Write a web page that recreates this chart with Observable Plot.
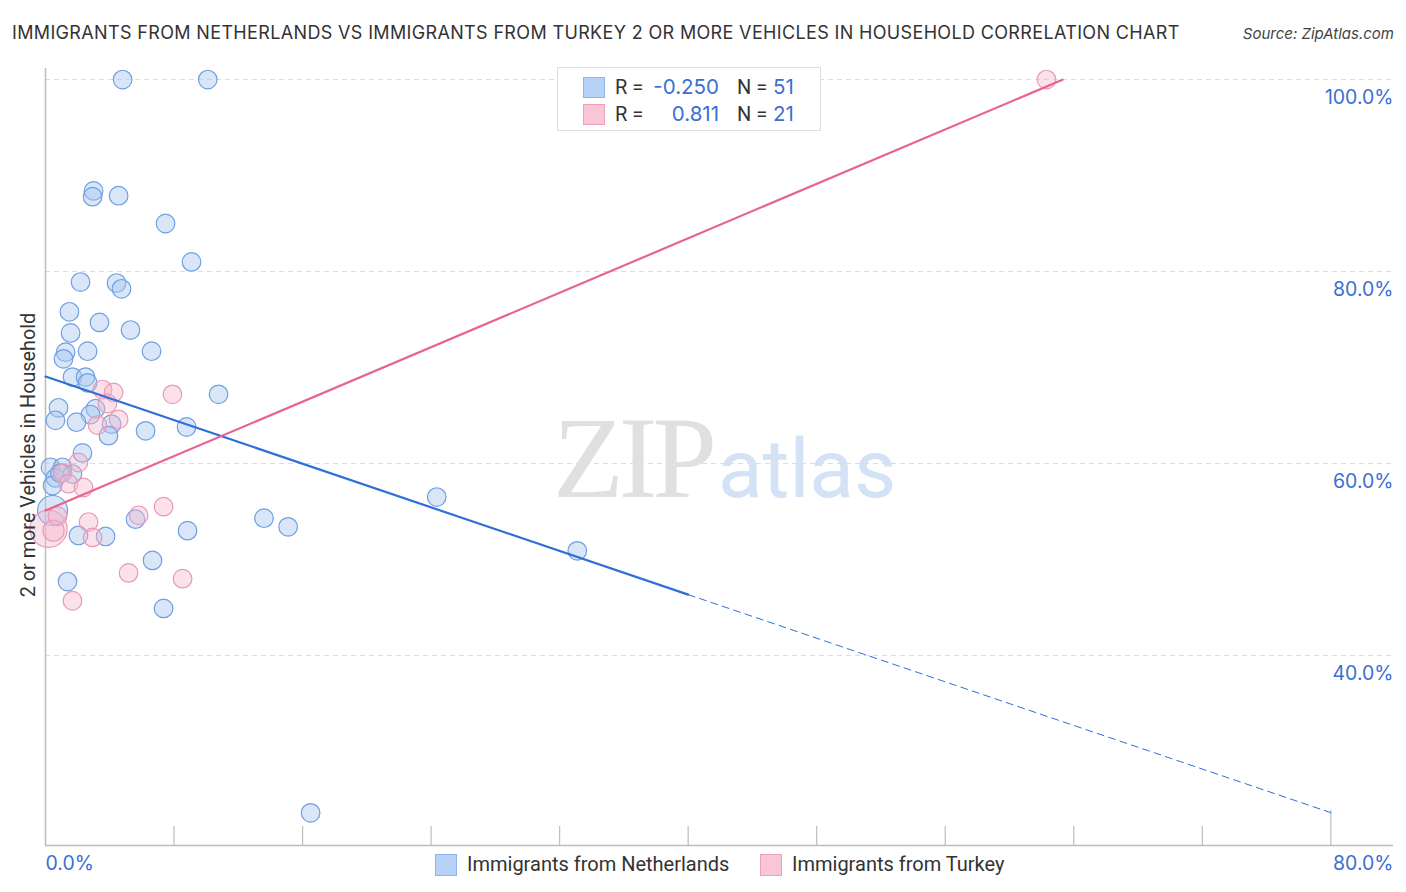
<!DOCTYPE html>
<html>
<head>
<meta charset="utf-8">
<script src="https://cdn.jsdelivr.net/npm/d3@7"></script>
<script src="https://cdn.jsdelivr.net/npm/@observablehq/plot@0.6"></script>
<style>
  html, body { margin: 0; padding: 0; background: #fff; }
  #wrap { position: relative; width: 1406px; height: 892px; font-family: Roboto, "Noto Sans", sans-serif; color: #333; overflow: hidden; }
  #title { position: absolute; left: 12px; top: 22px; font-family: Inter, "Noto Sans", sans-serif; font-size: 18px; color: #333; white-space: nowrap; letter-spacing: 0.35px; }
  #source { position: absolute; right: 12px; top: 24px; font-family: Inter, "Noto Sans", sans-serif; font-size: 15px; font-style: italic; color: #444; }
  #chart { position: absolute; left: 0; top: 0; }
  #rbox { position: absolute; left: 557px; top: 67px; width: 262px; height: 62px; border: 1px solid #ddd; background: #fff; font-size: 20px; }
  .row { position: absolute; left: 0; height: 26px; line-height: 26px; white-space: nowrap; }
  .sw { position: absolute; top: 3px; width: 20px; height: 19px; }
  .lab { position: absolute; color: #333; }
  .val { position: absolute; color: #3b6fd4; font-family: Inter, Roboto, sans-serif; font-size: 20.5px; }
  #blegend { position: absolute; top: 853px; left: 0; font-size: 20px; white-space: nowrap; }
  .bsw { position: absolute; top: 1px; width: 20px; height: 20px; }
  .btxt { position: absolute; top: 0; line-height: 22px; color: #333; }
  #ylab { position: absolute; left: 28px; top: 455px; transform: translate(-50%, -50%) rotate(-90deg); font-size: 19.8px; color: #333; white-space: nowrap; }
  #wm { position: absolute; left: 553px; top: 392px; white-space: nowrap; }
</style>
</head>
<body>
<div id="wrap">
  <div id="chart"></div>
  <div id="wm"><span style="font-family:'Liberation Serif','DejaVu Serif',serif;font-size:116px;color:#e0e0e0;letter-spacing:-5px;">ZIP</span><span style="font-family:Roboto,'Noto Sans',sans-serif;font-size:82px;color:#d3e2f5;margin-left:6px;">atlas</span></div>
  <div id="title">IMMIGRANTS FROM NETHERLANDS VS IMMIGRANTS FROM TURKEY 2 OR MORE VEHICLES IN HOUSEHOLD CORRELATION CHART</div>
  <div id="source">Source: ZipAtlas.com</div>
  <div id="ylab">2 or more Vehicles in Household</div>
  <div id="rbox"></div>
  <div id="blegend"></div>
</div>
<script>
// ---------- data ----------
const seriesNames = ["Immigrants from Netherlands", "Immigrants from Turkey"];
const seriesR = ["-0.250", "0.811"];
const seriesN = ["51", "21"];

const nlX = [4.8, 10.1, 2.99, 2.93, 4.55, 7.47, 9.09, 2.18, 4.42, 4.73,
             1.49, 3.36, 1.56, 5.29, 1.25, 1.12, 2.62, 6.6, 1.68, 2.49,
             2.62, 10.77, 0.81, 3.11, 2.8, 0.62, 1.93, 4.11, 6.23, 8.78,
             3.92, 2.3, 0.31, 1.06, 1.68, 0.62, 0.44, 24.35, 0.44, 5.6,
             13.6, 15.1, 8.84, 2.05, 3.74, 33.1, 6.66, 1.37, 7.35, 16.5, 0.9];
const nlY = [100, 100, 88.4, 87.8, 87.9, 85.0, 81.0, 78.9, 78.8, 78.2,
             75.8, 74.7, 73.6, 73.9, 71.6, 70.9, 71.7, 71.7, 69.0, 69.0,
             68.4, 67.2, 65.8, 65.7, 65.1, 64.5, 64.3, 64.1, 63.4, 63.8,
             62.9, 61.1, 59.6, 59.6, 58.9, 58.5, 57.7, 56.5, 55.1, 54.2,
             54.3, 53.4, 53.0, 52.5, 52.4, 50.9, 49.9, 47.7, 44.9, 23.6, 59.0];
const nlW = [1, 1, 1, 1, 1, 1, 1, 1, 1, 1,
             1, 1, 1, 1, 1, 1, 1, 1, 1, 1,
             1, 1, 1, 1, 1, 1, 1, 1, 1, 1,
             1, 1, 1, 1, 1, 1, 1, 1, 2.6, 1,
             1, 1, 1, 1, 1, 1, 1, 1, 1, 1, 1];

const trX = [62.3, 3.55, 4.24, 7.9, 3.86, 4.55, 3.24, 2.05, 1.06, 1.43,
             2.36, 7.35, 5.8, 2.68, 2.93, 5.17, 8.53, 1.68, 0.19, 0.75, 0.5];
const trY = [100, 67.7, 67.4, 67.2, 66.25, 64.6, 64.0, 60.1, 59.0, 57.9,
             57.5, 55.5, 54.6, 53.9, 52.3, 48.6, 48.0, 45.7, 53.2, 54.5, 53.0];
const trW = [1, 1, 1, 1, 1, 1, 1, 1, 1, 1,
             1, 1, 1, 1, 1, 1, 1, 1, 4, 1, 1.3];

// fitted trend lines (intercept at 0%, slope per %)
const nlFit = { intercept: 69.06, slope: -0.568, solidTo: 40, dashTo: 80 };
const trFit = { intercept: 55.1, slope: 0.709, solidTo: 63.3 };

const xTicks = [0, 8, 16, 24, 32, 40, 48, 56, 64, 72, 80];
const yTicks = [40, 60, 80, 100];
const xDomain = [0, 83.9];
const yDomain = [20.2, 101.15];

// ---------- build ----------
const blue = { fill: "#a9c7f0", stroke: "#6f9fe3", line: "#2f6fd8", sw: "#b7d2f6", swStroke: "#8fb5ea" };
const pink = { fill: "#f6b7ca", stroke: "#eb98b3", line: "#e8648f", sw: "#f9c6d5", swStroke: "#ef9fb8" };

const nl = nlX.map((x, i) => ({ x, y: nlY[i], w: nlW[i] }));
const tr = trX.map((x, i) => ({ x, y: trY[i], w: trW[i] }));

const fitPts = (f, a, b) => [a, b].map(x => ({ x, y: f.intercept + f.slope * x }));
const nlSolid = fitPts(nlFit, 0, nlFit.solidTo);
const nlDash = fitPts(nlFit, nlFit.solidTo, nlFit.dashTo);
const trSolid = fitPts(trFit, 0, trFit.solidTo);

const pct = d => d.toFixed(1) + "%";
const tickFont = "Inter, Roboto, sans-serif";

const chart = Plot.plot({
  width: 1406,
  height: 892,
  marginLeft: 45,
  marginRight: 13,
  marginTop: 68,
  marginBottom: 47,
  style: { fontFamily: "Roboto, 'Noto Sans', sans-serif", background: "transparent" },
  x: { domain: xDomain, axis: null },
  y: { domain: yDomain, axis: null },
  r: { type: "sqrt", domain: [0, 1], range: [0, 9.3] },
  marks: [
    Plot.ruleY(yTicks, { stroke: "#dcdcdc", strokeDasharray: "5,4", strokeWidth: 1 }),
    Plot.ruleX(xTicks.filter(d => d > 0 && d < 80), { stroke: "#bdbdbd", strokeWidth: 1.2, insetTop: 758 }),
    Plot.ruleX([80], { stroke: "#bdbdbd", strokeWidth: 1.2, insetTop: 742 }),
    Plot.ruleX([0], { stroke: "#bdbdbd", strokeWidth: 1.5 }),
    Plot.ruleY([yDomain[0]], { stroke: "#bdbdbd", strokeWidth: 1.5 }),
    Plot.dot(nl, { x: "x", y: "y", r: "w", fill: blue.fill, fillOpacity: 0.45, stroke: blue.stroke, strokeWidth: 1.2 }),
    Plot.dot(tr, { x: "x", y: "y", r: "w", fill: pink.fill, fillOpacity: 0.4, stroke: pink.stroke, strokeWidth: 1.2 }),
    Plot.line(nlSolid, { x: "x", y: "y", stroke: blue.line, strokeWidth: 2.2 }),
    Plot.line(nlDash, { x: "x", y: "y", stroke: blue.line, strokeWidth: 1, strokeDasharray: "7,5" }),
    Plot.line(trSolid, { x: "x", y: "y", stroke: pink.line, strokeWidth: 2.2 }),
    Plot.text(yTicks, { y: d => d, frameAnchor: "right", text: pct, textAnchor: "end", dy: 18, fill: "#3b6fd4", fontSize: 19.5, fontFamily: tickFont }),
    Plot.text([xTicks[0]], { x: d => d, frameAnchor: "bottom", text: pct, textAnchor: "start", dy: 24, fill: "#3b6fd4", fontSize: 19.5, fontFamily: tickFont }),
    Plot.text([xTicks[xTicks.length - 1]], { frameAnchor: "bottom-right", text: pct, textAnchor: "end", dy: 24, fill: "#3b6fd4", fontSize: 19.5, fontFamily: tickFont })
  ]
});
document.getElementById("chart").appendChild(chart);

// correlation legend box
const rbox = document.getElementById("rbox");
const cols = [blue, pink];
seriesNames.forEach((name, i) => {
  const row = document.createElement("div");
  row.className = "row";
  row.style.top = (6 + i * 27) + "px";
  row.style.width = "100%";
  row.innerHTML =
    `<div class="sw" style="left:25px;background:${cols[i].sw};border:1px solid ${cols[i].swStroke};"></div>` +
    `<span class="lab" style="left:57px;">R =</span>` +
    `<span class="val" style="right:101px;">${seriesR[i]}</span>` +
    `<span class="lab" style="left:179px;">N =</span>` +
    `<span class="val" style="left:215px;">${seriesN[i]}</span>`;
  rbox.appendChild(row);
});

// bottom legend
const bl = document.getElementById("blegend");
const pos = [[435, 467], [760, 792]];
seriesNames.forEach((name, i) => {
  bl.innerHTML +=
    `<div class="bsw" style="left:${pos[i][0]}px;background:${cols[i].sw};border:1px solid ${cols[i].swStroke};"></div>` +
    `<span class="btxt" style="left:${pos[i][1]}px;">${name}</span>`;
});
</script>
</body>
</html>
